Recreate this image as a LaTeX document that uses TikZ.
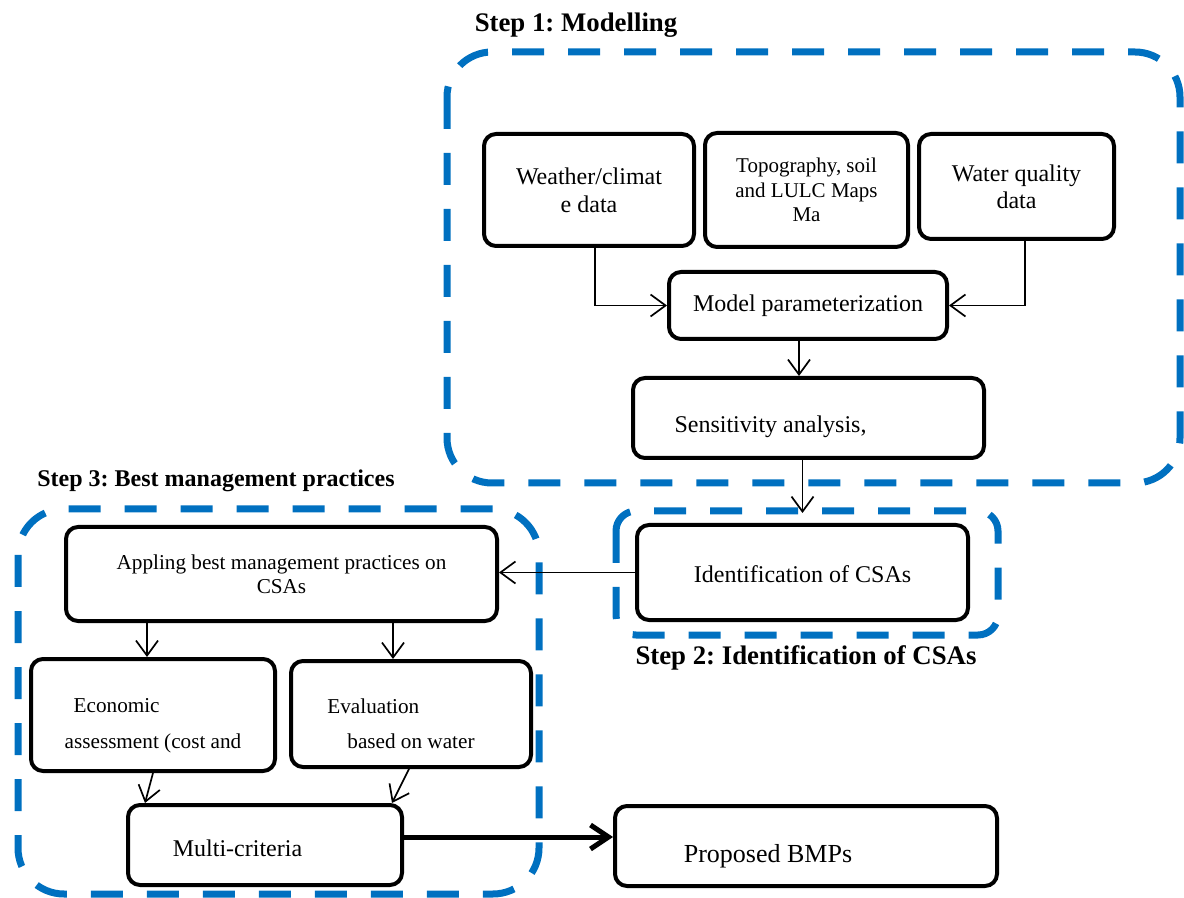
\documentclass[tikz,border=0pt]{standalone}
\usepackage{fontspec}
\setmainfont{Liberation Serif}
\usetikzlibrary{calc, arrows.meta}
\definecolor{stepblue}{RGB}{0,112,192}
\frenchspacing

\begin{document}
\begin{tikzpicture}[x=0.5pt,y=-0.5pt,
        box/.style={draw,line width=2pt,rounded corners=6pt,inner sep=0pt,align=center,
            font=\fontsize{12}{14}\selectfont},
        frame/.style={draw=stepblue,line width=3.5pt,dash pattern=on 16pt off 12pt},
        arr/.style={line width=0.85pt,-{Straight Barb[length=7.5pt,width=11pt,line width=0.85pt]}},
        bigarr/.style={line width=2.5pt,-{Straight Barb[length=9pt,width=12pt,line width=2.5pt]}},
        title/.style={font=\bfseries\fontsize{13.4}{15}\selectfont}]
        \useasboundingbox (0,0) rectangle (1184,898);
        % dashed step frames
        \draw[frame,rounded corners=22.5pt] (447,52) rectangle (1180,483);
        \draw[frame,rounded corners=10pt] (616,511) rectangle (998,635);
        \draw[frame,rounded corners=23pt] (18,509) rectangle (539,894);
        \node[title] (step1) at (576,25) {Step 1: Modelling};
        \node[title] (step2) at (806,658) {Step 2: Identification of CSAs};
        \node[title,font=\bfseries\fontsize{12}{14}\selectfont] (step3) at (216,481) {Step 3: Best management practices};
        % step 1
        \node[box,minimum width=105pt,minimum height=56pt] (weather) at (589,190) {Weather/climat\\e data};
        \node[box,minimum width=101.5pt,minimum height=57pt,font=\fontsize{10.5}{12.25}\selectfont] (topo) at (806.5,190) {Topography, soil\\and LULC Maps\\Ma};
        \node[box,minimum width=97.5pt,minimum height=52.5pt,font=\fontsize{12}{13.5}\selectfont] (water) at (1016.5,186.5) {Water quality\\data};
        \node[box,minimum width=139pt,minimum height=33.5pt] (param) at (808,305.5) {Model parameterization};
        \node[box,minimum width=175.5pt,minimum height=40pt] (sens) at (808.5,418) {\rule{0pt}{17pt}Sensitivity analysis,\hspace*{38pt}};
        % step 2
        \node[box,minimum width=165.5pt,minimum height=47.5pt] (ident) at (802.5,572.5) {\rule{0pt}{10.5pt}Identification of CSAs};
        % step 3
        \node[box,minimum width=215.5pt,minimum height=47pt,font=\fontsize{10.6}{12}\selectfont] (appling) at (281.5,574) {Appling best management practices on\\CSAs};
        \node[box,minimum width=122pt,minimum height=56pt,align=left,font=\fontsize{10.6}{18}\selectfont] (econ) at (153,715) {\rule{0pt}{17.5pt}\hspace*{4.5pt}Economic\\assessment (cost and};
        \node[box,minimum width=120pt,minimum height=53pt,align=left,font=\fontsize{10.6}{17.5}\selectfont] (eval) at (411,714) {\rule{0pt}{17.5pt}Evaluation\\\hspace*{10pt}based on water\hspace*{10pt}};
        \node[box,minimum width=137pt,minimum height=40pt] (multi) at (265,845) {\rule{0pt}{12pt}Multi-criteria\hspace*{27.5pt}};
        \node[box,minimum width=191pt,minimum height=40pt,font=\fontsize{13}{15}\selectfont] (proposed) at (806,846) {\rule{0pt}{19.5pt}Proposed BMPs\hspace*{38pt}};
        % connectors
        \draw[arr] ([xshift=3pt]weather.south) |- (param.west);
        \draw[arr] ([xshift=4.25pt]water.south) |- (param.east);
        \draw[arr] ([xshift=-4.5pt]param.south) -- ([xshift=-4.5pt]param.south |- sens.north);
        \draw[arr,shorten >=5pt] (sens.south -| ident.north) -- (ident.north);
        \draw[arr] (ident.west) -- (ident.west -| appling.east);
        \draw[arr] ([xshift=-3pt]econ.north |- appling.south) -- ([xshift=-3pt]econ.north);
        \draw[arr] ([xshift=-9pt]eval.north |- appling.south) -- ([xshift=-9pt]eval.north);
        \draw[arr] (econ.south) -- ([xshift=-60pt]multi.north);
        \draw[arr] ([xshift=-1pt]eval.south) -- ([xshift=63.5pt]multi.north);
        \draw[bigarr] ([yshift=4pt]multi.east) -- ([yshift=4pt]multi.east -| proposed.west);
\end{tikzpicture}
\end{document}
